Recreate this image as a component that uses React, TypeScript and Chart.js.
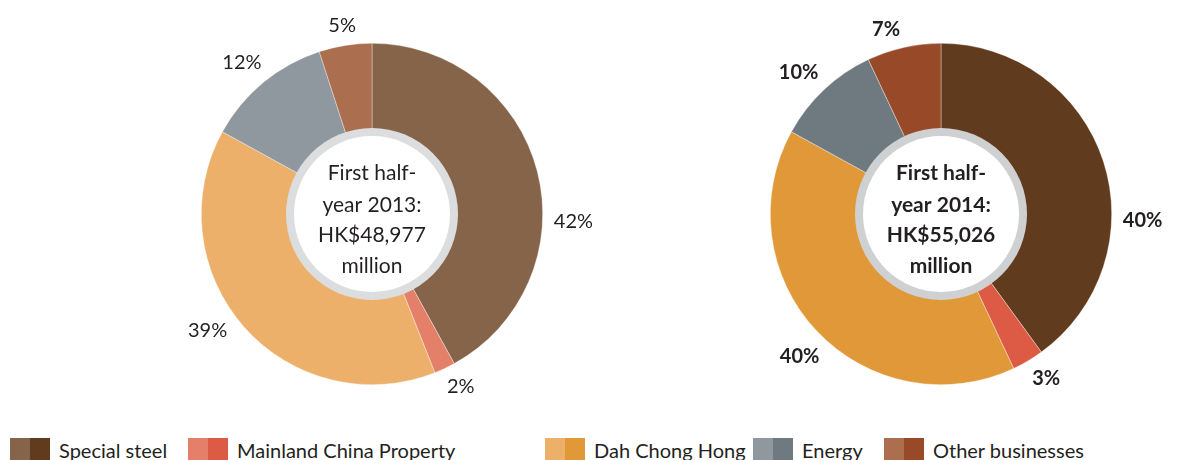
import React, { useEffect, useRef } from "react";
import { Chart, registerables } from "chart.js";

Chart.register(...registerables);

// ---------- data ----------
const categories = ["Special steel", "Mainland China Property", "Dah Chong Hong", "Energy", "Other businesses"];
const values2013 = [42, 2, 39, 12, 5];
const values2014 = [40, 3, 40, 10, 7];
const labels2013 = ["42%", "2%", "39%", "12%", "5%"];
const labels2014 = ["40%", "3%", "40%", "10%", "7%"];
const centerText2013 = ["First half-", "year 2013:", "HK$48,977", "million"];
const centerText2014 = ["First half-", "year 2014:", "HK$55,026", "million"];

// ---------- style ----------
const colors2013 = ["#86644A", "#E47F69", "#ECB06A", "#8E989E", "#AB6E4F"];
const colors2014 = ["#603B1E", "#DD5A44", "#E19838", "#6F7A80", "#984A28"];
const nudge2013 = [16.5, -2, 6, -1, 0];
const nudge2014 = [20, -2, -2, -2, -4];
const FONT = "Lato, 'Open Sans', sans-serif";
const TEXT = "#231F20";

type Cfg = {
  values: number[];
  labels: string[];
  center: string[];
  colors: string[];
  nudge: number[];
  bold: boolean;
  ring: string;
  padding: { left: number; right: number; top: number; bottom: number };
};

const decorPlugin = {
  id: "decor",
  afterDatasetsDraw(chart: any, _args: any, opts: any) {
    const cfg: Cfg = opts.cfg;
    const ctx = chart.ctx;
    const meta = chart.getDatasetMeta(0);
    const arcs = meta.data;
    if (!arcs.length) return;
    const cx = arcs[0].x;
    const cy = arcs[0].y;
    const R = arcs[0].outerRadius;
    ctx.save();
    // center ring
    ctx.beginPath();
    ctx.arc(cx, cy, 86, 0, Math.PI * 2);
    ctx.fillStyle = cfg.ring;
    ctx.fill();
    ctx.beginPath();
    ctx.arc(cx, cy, 78, 0, Math.PI * 2);
    ctx.fillStyle = "#FFFFFF";
    ctx.fill();
    // center text
    ctx.fillStyle = TEXT;
    ctx.textAlign = "center";
    ctx.textBaseline = "alphabetic";
    ctx.font = `${cfg.bold ? "bold " : ""}21px ${FONT}`;
    const offs = [-34, -2, 28, 59];
    cfg.center.forEach((t, i) => ctx.fillText(t, cx, cy + offs[i]));
    // percentage labels
    ctx.font = `${cfg.bold ? "bold " : ""}20px ${FONT}`;
    ctx.textBaseline = "middle";
    arcs.forEach((a: any, i: number) => {
      const mid = (a.startAngle + a.endAngle) / 2 + (cfg.nudge[i] * Math.PI) / 180;
      const dx = Math.cos(mid);
      const dy = Math.sin(mid);
      const txt = cfg.labels[i];
      const hw = ctx.measureText(txt).width / 2;
      const hh = 7;
      const ext = Math.abs(dx) * hw + Math.abs(dy) * hh;
      const r = R + 11 + ext;
      ctx.fillText(txt, cx + dx * r, cy + dy * r);
    });
    ctx.restore();
  },
};

function Donut({ cfg, left }: { cfg: Cfg; left: number }) {
  const ref = useRef<HTMLCanvasElement | null>(null);
  useEffect(() => {
    if (!ref.current) return;
    const chart = new Chart(ref.current, {
      type: "doughnut",
      data: {
        labels: categories,
        datasets: [
          {
            data: cfg.values,
            backgroundColor: cfg.colors,
            borderColor: "rgba(255,255,255,0.6)",
            borderWidth: 0.6,
          },
        ],
      },
      options: {
        animation: false,
        responsive: false,
        maintainAspectRatio: false,
        cutout: 80,
        layout: { padding: cfg.padding },
        plugins: {
          legend: { display: false },
          tooltip: { enabled: false },
          decor: { cfg },
        } as any,
      },
      plugins: [decorPlugin],
    });
    return () => chart.destroy();
  }, []);
  return (
    <canvas
      ref={ref}
      width={592}
      height={430}
      style={{ position: "absolute", left, top: 0, width: 592, height: 430 }}
    />
  );
}

const cfg2013: Cfg = {
  values: values2013,
  labels: labels2013,
  center: centerText2013,
  colors: colors2013,
  nudge: nudge2013,
  bold: false,
  ring: "#DCDDDF",
  padding: { left: 201, right: 49, top: 43, bottom: 45 },
};
const cfg2014: Cfg = {
  values: values2014,
  labels: labels2014,
  center: centerText2014,
  colors: colors2014,
  nudge: nudge2014,
  bold: true,
  ring: "#CFD0D2",
  padding: { left: 178, right: 72, top: 43, bottom: 45 },
};

const legendLeft = [10, 188, 545, 753, 884];

export default function App() {
  return (
    <div
      style={{
        position: "absolute",
        left: 0,
        top: 0,
        width: 1184,
        height: 460,
        background: "#FFFFFF",
        overflow: "hidden",
      }}
    >
      <Donut cfg={cfg2013} left={0} />
      <Donut cfg={cfg2014} left={592} />
      {categories.map((c, i) => (
        <div
          key={c}
          style={{
            position: "absolute",
            left: legendLeft[i],
            top: 438,
            height: 22,
            display: "flex",
            alignItems: "flex-start",
            whiteSpace: "nowrap",
          }}
        >
          <div style={{ width: 20, height: 22, background: colors2013[i] }} />
          <div style={{ width: 20, height: 22, background: colors2014[i] }} />
          <span
            style={{
              marginLeft: 9,
              fontFamily: FONT,
              fontSize: 20,
              lineHeight: "22px",
              color: TEXT,
              position: "relative",
              top: 1,
            }}
          >
            {c}
          </span>
        </div>
      ))}
    </div>
  );
}
